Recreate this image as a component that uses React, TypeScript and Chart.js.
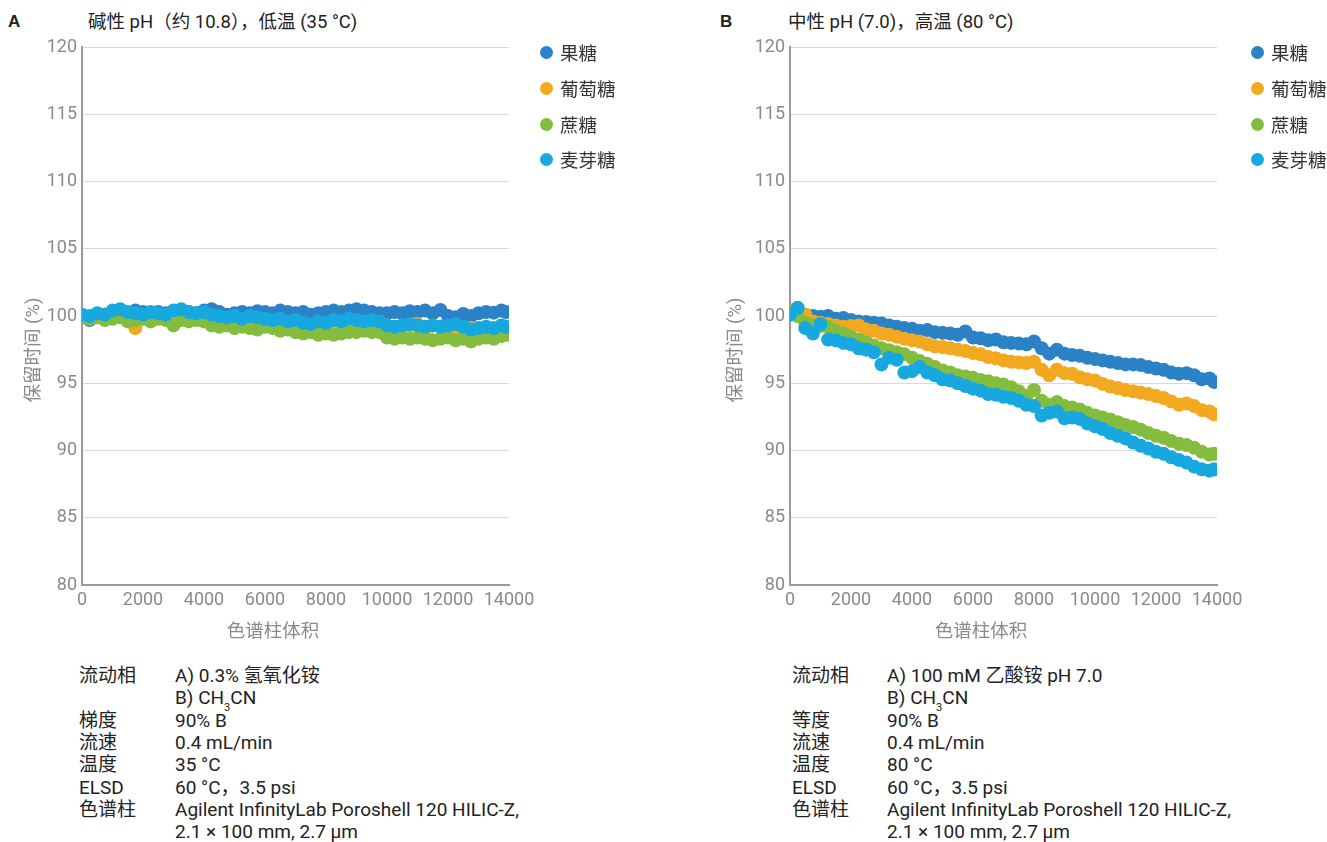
import React, { useEffect, useRef } from "react";
import { Chart, registerables } from "chart.js";

Chart.register(...registerables);

const FONT = "Roboto, 'Noto Sans CJK SC', sans-serif";

const volumes = [
  0, 250, 500, 750, 1000, 1250, 1500, 1750, 2000, 2250, 2500, 2750, 3000, 3250, 3500, 3750,
  4000, 4250, 4500, 4750, 5000, 5250, 5500, 5750, 6000, 6250, 6500, 6750, 7000, 7250, 7500, 7750,
  8000, 8250, 8500, 8750, 9000, 9250, 9500, 9750, 10000, 10250, 10500, 10750, 11000, 11250, 11500, 11750,
  12000, 12250, 12500, 12750, 13000, 13250, 13500, 13750, 13900,
];

const seriesNames = ["果糖", "葡萄糖", "蔗糖", "麦芽糖"];
const seriesColors = ["#2b82c6", "#f2a81f", "#84bd3e", "#17a8df"];

// Panel A: alkaline pH, 35 °C
const aFructose = [
  99.9, 99.7, 100.0, 100.1, 100.2, 100.3, 100.2, 100.4, 100.3, 100.2, 100.3, 100.2, 100.3, 100.4, 100.3, 100.2,
  100.4, 100.5, 100.3, 100.1, 100.2, 100.3, 100.2, 100.35, 100.3, 100.2, 100.4, 100.3, 100.2, 100.3, 100.1, 100.2,
  100.3, 100.4, 100.3, 100.4, 100.5, 100.4, 100.3, 100.2, 100.2, 100.3, 100.2, 100.35, 100.3, 100.4, 100.2, 100.45,
  100.0, 99.9, 100.15, 100.0, 100.2, 100.3, 100.25, 100.4, 100.3,
];
const aGlucose = [
  100.0, 99.8, 99.9, 100.0, 99.9, 100.0, 99.8, 99.1, 99.8, 100.0, 99.9, 99.8, 100.0, 99.9, 100.0, 99.8,
  99.7, 99.6, 99.5, 99.4, 99.5, 99.3, 99.4, 99.5, 99.3, 99.2, 99.3, 99.1, 99.2, 99.0, 99.3, 99.2,
  99.1, 99.3, 99.4, 99.4, 99.5, 99.5, 99.4, 99.2, 99.3, 99.1, 99.2, 99.3, 99.4, 99.0, 99.3, 99.2,
  99.0, 98.9, 99.0, 99.1, 99.0, 98.8, 98.9, 99.0, 98.8,
];
const aSucrose = [
  99.9, 99.8, 99.9, 99.7, 99.8, 99.9, 99.6, 99.7, 99.8, 99.6, 99.8, 99.7, 99.3, 99.7, 99.6, 99.7,
  99.6, 99.3, 99.2, 99.3, 99.1, 99.2, 99.1, 99.0, 99.2, 99.1, 98.9, 99.0, 98.8, 98.7, 98.8, 98.6,
  98.7, 98.6, 98.7, 98.8, 98.8, 98.9, 98.8, 98.8, 98.4, 98.3, 98.4, 98.3, 98.4, 98.3, 98.2, 98.3,
  98.4, 98.2, 98.3, 98.1, 98.3, 98.4, 98.3, 98.5, 98.6,
];
const aMaltose = [
  100.1, 100.0, 100.2, 100.1, 100.4, 100.5, 100.3, 100.2, 100.1, 100.3, 100.2, 100.1, 100.4, 100.5, 100.3, 100.2,
  100.3, 100.1, 100.0, 99.9, 100.0, 99.8, 100.0, 99.9, 99.8, 99.7, 99.8, 99.6, 99.7, 99.5, 99.4, 99.6,
  99.5, 99.7, 99.6, 99.8, 99.7, 99.6, 99.7, 99.6, 99.3, 99.2, 99.3, 99.4, 99.3, 99.2, 99.3, 99.2,
  99.3, 99.4, 99.2, 99.0, 99.1, 99.2, 99.1, 99.3, 99.2,
];

// Panel B: neutral pH, 80 °C
const bFructose = [
  100.4, 100.6, 100.1, 100.0, 99.95, 100.0, 99.8, 99.85, 99.7, 99.6, 99.55, 99.5, 99.45, 99.3, 99.2, 99.1,
  99.05, 98.9, 98.95, 98.8, 98.75, 98.7, 98.6, 98.85, 98.4, 98.35, 98.2, 98.25, 98.05, 98.0, 97.95, 97.9,
  98.1, 97.6, 97.2, 97.5, 97.2, 97.1, 97.05, 96.9, 96.8, 96.7, 96.6, 96.5, 96.4, 96.4, 96.35, 96.2,
  96.1, 96.0, 95.8, 95.7, 95.75, 95.6, 95.3, 95.35, 95.1,
];
const bGlucose = [
  100.4, 100.5, 100.1, 99.6, 99.5, 99.4, 99.3, 99.2, 99.25, 99.3, 99.0, 98.9, 98.7, 98.6, 98.45, 98.3,
  98.2, 98.1, 97.9, 97.75, 97.7, 97.6, 97.5, 97.4, 97.25, 97.15, 96.95, 96.85, 96.7, 96.6, 96.55, 96.5,
  96.6, 96.0, 95.6, 96.0, 95.75, 95.7, 95.45, 95.3, 95.2, 94.95, 94.75, 94.65, 94.5, 94.4, 94.3, 94.2,
  94.05, 93.9, 93.65, 93.4, 93.5, 93.3, 93.0, 92.9, 92.7,
];
const bSucrose = [
  100.3, 100.0, 99.5, 99.3, 99.25, 99.2, 98.9, 98.7, 98.45, 98.25, 98.05, 97.8, 97.6, 97.45, 97.3, 97.15,
  96.9, 96.65, 96.45, 96.2, 95.95, 95.8, 95.6, 95.5, 95.4, 95.25, 95.15, 95.0, 94.9, 94.7, 94.4, 94.05,
  94.5, 93.7, 93.4, 93.6, 93.3, 93.2, 93.05, 92.8, 92.6, 92.45, 92.3, 92.1, 91.9, 91.75, 91.55, 91.3,
  91.1, 90.95, 90.7, 90.5, 90.4, 90.2, 89.9, 89.7, 89.75,
];
const bMaltose = [
  100.1, 100.6, 99.1, 98.7, 99.4, 98.25, 98.2, 98.0, 97.9, 97.6, 97.5, 97.3, 96.4, 96.9, 96.75, 95.8,
  95.9, 96.2, 95.8, 95.6, 95.3, 95.2, 95.0, 94.8, 94.6, 94.45, 94.2, 94.15, 94.0, 93.9, 93.7, 93.4,
  93.3, 92.6, 92.8, 92.9, 92.4, 92.45, 92.35, 92.0, 91.8, 91.6, 91.3, 91.1, 90.9, 90.6, 90.35, 90.15,
  89.9, 89.75, 89.5, 89.3, 89.1, 88.8, 88.6, 88.5, 88.6,
];

const yMin = 80;
const yMax = 120;
const yStep = 5;
const xMin = 0;
const xMax = 14000;
const xStep = 2000;

const xTitle = "色谱柱体积";
const yTitle = "保留时间 (%)";

const panelATitle = "碱性 pH（约 10.8），低温 (35 °C)";
const panelBTitle = "中性 pH (7.0)，高温 (80 °C)";

const panelAConditions = [
  ["流动相", "A) 0.3% 氢氧化铵"],
  ["", "B) CH|3|CN"],
  ["梯度", "90% B"],
  ["流速", "0.4 mL/min"],
  ["温度", "35 °C"],
  ["ELSD", "60 °C，3.5 psi"],
  ["色谱柱", "Agilent InfinityLab Poroshell 120 HILIC-Z,"],
  ["", "2.1 × 100 mm, 2.7 µm"],
];
const panelBConditions = [
  ["流动相", "A) 100 mM 乙酸铵 pH 7.0"],
  ["", "B) CH|3|CN"],
  ["等度", "90% B"],
  ["流速", "0.4 mL/min"],
  ["温度", "80 °C"],
  ["ELSD", "60 °C，3.5 psi"],
  ["色谱柱", "Agilent InfinityLab Poroshell 120 HILIC-Z,"],
  ["", "2.1 × 100 mm, 2.7 µm"],
];

const CANVAS_W = 560;
const CANVAS_H = 600;

function ScatterPanel({ series }: { series: number[][] }) {
  const ref = useRef<HTMLCanvasElement | null>(null);
  useEffect(() => {
    if (!ref.current) return;
    const drawOrder = [3, 2, 1, 0];
    const datasets = series.map((vals, i) => ({
      label: seriesNames[i],
      data: vals.map((y, k) => ({ x: volumes[k], y })),
      backgroundColor: seriesColors[i],
      borderColor: seriesColors[i],
      pointRadius: 7,
      pointBorderWidth: 0,
      showLine: false,
      order: drawOrder[i],
    }));
    const chart = new Chart(ref.current, {
      type: "scatter",
      data: { datasets },
      options: {
        animation: false,
        responsive: false,
        devicePixelRatio: 1,
        layout: { padding: { top: 17, right: CANVAS_W - 509, left: 0, bottom: 0 } },
        plugins: { legend: { display: false }, tooltip: { enabled: false } },
        scales: {
          x: {
            type: "linear",
            min: xMin,
            max: xMax,
            afterFit: (s: any) => {
              s.height = CANVAS_H - 555;
            },
            ticks: {
              stepSize: xStep,
              color: "#8a8a8a",
              font: { family: FONT, size: 18 },
              padding: 5,
              maxRotation: 0,
              autoSkip: false,
              callback: (v: any) => String(v),
            },
            grid: { display: false, drawTicks: false },
            border: { display: true, color: "#9a9a9a", width: 2 },
          },
          y: {
            type: "linear",
            min: yMin,
            max: yMax,
            afterFit: (s: any) => {
              s.width = 82;
            },
            ticks: {
              stepSize: yStep,
              color: "#8a8a8a",
              font: { family: FONT, size: 18 },
              padding: 5,
            },
            grid: { color: "#d9d9d9", lineWidth: 1, drawTicks: false },
            border: { display: true, color: "#9a9a9a", width: 2 },
          },
        },
      },
    });
    return () => chart.destroy();
  }, [series]);
  return (
    <canvas
      ref={ref}
      width={CANVAS_W}
      height={CANVAS_H}
      style={{ width: CANVAS_W, height: CANVAS_H, display: "block" }}
    />
  );
}

function ValueText({ text }: { text: string }) {
  if (text.includes("|")) {
    const [a, sub, b] = text.split("|");
    return (
      <span>
        {a}
        <span style={{ fontSize: 11, position: "relative", top: 7, lineHeight: 0 }}>{sub}</span>
        {b}
      </span>
    );
  }
  return <span>{text}</span>;
}

function Panel({
  left,
  letter,
  title,
  series,
  conditions,
  letterX,
  titleX,
  legendX,
  yTitleX,
  xTitleX,
  condLabelX,
  condValueX,
}: {
  left: number;
  letter: string;
  title: string;
  series: number[][];
  conditions: string[][];
  letterX: number;
  titleX: number;
  legendX: number;
  yTitleX: number;
  xTitleX: number;
  condLabelX: number;
  condValueX: number;
}) {
  return (
    <>
      <div
        style={{
          position: "absolute",
          left: letterX,
          top: 11,
          fontFamily: "'Liberation Sans', Arial, sans-serif",
          fontWeight: "bold",
          fontSize: 17,
          color: "#222",
          lineHeight: "22px",
        }}
      >
        {letter}
      </div>
      <div
        style={{
          position: "absolute",
          left: titleX,
          top: 11,
          fontFamily: FONT,
          fontSize: 18.5,
          color: "#222",
          lineHeight: "22px",
          whiteSpace: "nowrap",
        }}
      >
        {title}
      </div>
      <div style={{ position: "absolute", left: left, top: 30 }}>
        <ScatterPanel series={series} />
      </div>
      <div
        style={{
          position: "absolute",
          left: yTitleX - 80,
          top: 350 - 12,
          width: 160,
          height: 24,
          lineHeight: "24px",
          textAlign: "center",
          transform: "rotate(-90deg)",
          fontFamily: FONT,
          fontSize: 18.5,
          color: "#8a8a8a",
          whiteSpace: "nowrap",
        }}
      >
        {yTitle}
      </div>
      <div
        style={{
          position: "absolute",
          left: xTitleX - 80,
          top: 631 - 12,
          width: 160,
          height: 24,
          lineHeight: "24px",
          textAlign: "center",
          fontFamily: FONT,
          fontSize: 18.5,
          color: "#8a8a8a",
          whiteSpace: "nowrap",
        }}
      >
        {xTitle}
      </div>
      {seriesNames.map((name, i) => (
        <div
          key={name}
          style={{
            position: "absolute",
            left: legendX - 7,
            top: [52, 88, 124, 159][i] - 12,
            height: 24,
            display: "flex",
            alignItems: "center",
            fontFamily: FONT,
            fontSize: 18.5,
            color: "#333",
            whiteSpace: "nowrap",
          }}
        >
          <span
            style={{
              display: "inline-block",
              width: 13,
              height: 13,
              borderRadius: "50%",
              background: seriesColors[i],
              marginRight: 7,
            }}
          />
          {name}
        </div>
      ))}
      <div
        style={{
          position: "absolute",
          left: 0,
          top: 665,
          fontFamily: FONT,
          fontSize: 19,
          color: "#222",
        }}
      >
        {conditions.map((row, i) => (
          <div key={i} style={{ position: "absolute", top: i * 22.3, left: 0, height: 22, lineHeight: "22px", whiteSpace: "nowrap" }}>
            <span style={{ position: "absolute", left: condLabelX }}>{row[0]}</span>
            <span style={{ position: "absolute", left: condValueX }}>
              <ValueText text={row[1]} />
            </span>
          </div>
        ))}
      </div>
    </>
  );
}

export default function App() {
  return (
    <div
      style={{
        position: "absolute",
        left: 0,
        top: 0,
        width: 1327,
        height: 842,
        background: "#fff",
        overflow: "hidden",
      }}
    >
      <Panel
        left={0}
        letter="A"
        title={panelATitle}
        series={[aFructose, aGlucose, aSucrose, aMaltose]}
        conditions={panelAConditions}
        letterX={8}
        titleX={88}
        legendX={547}
        yTitleX={33}
        xTitleX={273}
        condLabelX={79}
        condValueX={175}
      />
      <Panel
        left={708}
        letter="B"
        title={panelBTitle}
        series={[bFructose, bGlucose, bSucrose, bMaltose]}
        conditions={panelBConditions}
        letterX={720}
        titleX={788}
        legendX={1258}
        yTitleX={735}
        xTitleX={981}
        condLabelX={792}
        condValueX={887}
      />
    </div>
  );
}
